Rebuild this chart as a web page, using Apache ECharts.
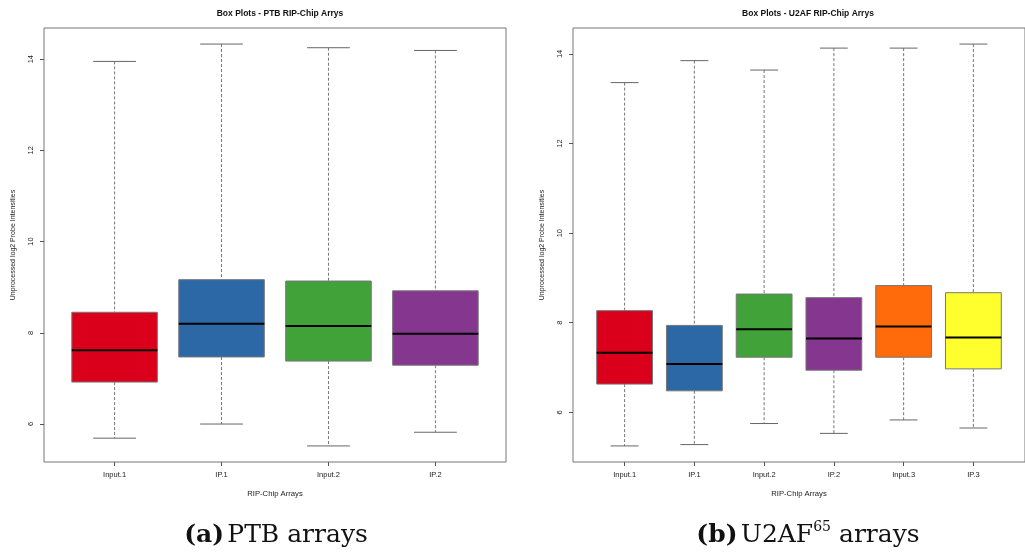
<!DOCTYPE html>
<html>
<head>
<meta charset="utf-8">
<script src="https://cdn.jsdelivr.net/npm/echarts@6/dist/echarts.min.js"></script>
<style>
  html, body { margin: 0; padding: 0; background: #fff; }
  #chart { width: 1025px; height: 553px; }
</style>
</head>
<body>
<div id="chart"></div>
<script>
// PTB RIP-Chip arrays: five-number summaries per array
const ptbCategories = ['Input.1', 'IP.1', 'Input.2', 'IP.2'];
const ptbMin    = [5.69, 6.00, 5.52, 5.82];
const ptbQ1     = [6.92, 7.47, 7.38, 7.29];
const ptbMedian = [7.62, 8.20, 8.15, 7.98];
const ptbQ3     = [8.45, 9.165, 9.135, 8.92];
const ptbMax    = [13.95, 14.33, 14.25, 14.19];

// U2AF65 RIP-Chip arrays
const u2afCategories = ['Input.1', 'IP.1', 'Input.2', 'IP.2', 'Input.3', 'IP.3'];
const u2afMin    = [5.25, 5.28, 5.75, 5.53, 5.83, 5.65];
const u2afQ1     = [6.63, 6.48, 7.23, 6.94, 7.23, 6.97];
const u2afMedian = [7.33, 7.08, 7.855, 7.65, 7.915, 7.67];
const u2afQ3     = [8.27, 7.94, 8.64, 8.56, 8.83, 8.67];
const u2afMax    = [13.36, 13.85, 13.64, 14.13, 14.13, 14.22];

const yTicks = [6, 8, 10, 12, 14];
const boxColors = ['#DA001C', '#2C68A6', '#41A23A', '#85368F', '#FF6A0A', '#FFFF2E'];

const FONT = 'Liberation Sans, Arial, sans-serif';
const SERIF = 'DejaVu Serif, Liberation Serif, serif';

// rows of [position, min, q1, median, q3, max]
function boxRows(mins, q1s, meds, q3s, maxs) {
  return mins.map((m, i) => [i + 1, m, q1s[i], meds[i], q3s[i], maxs[i]]);
}

// axis limits padded by 4% on each side
function paddedRange(lo, hi) {
  const pad = (hi - lo) * 0.04;
  return [lo - pad, hi + pad];
}

function renderBox(params, api) {
  const x = api.value(0);
  const lo = api.value(1), q1 = api.value(2), med = api.value(3), q3 = api.value(4), hi = api.value(5);
  const halfBox = 0.4, halfCap = 0.2;
  const pTopW = api.coord([x, hi]);
  const pQ3 = api.coord([x, q3]);
  const pQ1 = api.coord([x, q1]);
  const pLoW = api.coord([x, lo]);
  const boxL = api.coord([x - halfBox, q3]);
  const boxR = api.coord([x + halfBox, q1]);
  const capL = api.coord([x - halfCap, hi])[0];
  const capR = api.coord([x + halfCap, hi])[0];
  const medY = api.coord([x, med])[1];
  const whisk = { stroke: '#777', lineWidth: 1, lineDash: [3, 2] };
  const cap = { stroke: '#666', lineWidth: 1 };
  return {
    type: 'group',
    children: [
      { type: 'line', shape: { x1: pTopW[0], y1: pTopW[1], x2: pQ3[0], y2: pQ3[1] }, style: whisk },
      { type: 'line', shape: { x1: pQ1[0], y1: pQ1[1], x2: pLoW[0], y2: pLoW[1] }, style: whisk },
      { type: 'line', shape: { x1: capL, y1: pTopW[1], x2: capR, y2: pTopW[1] }, style: cap },
      { type: 'line', shape: { x1: capL, y1: pLoW[1], x2: capR, y2: pLoW[1] }, style: cap },
      {
        type: 'rect',
        shape: { x: boxL[0], y: boxL[1], width: boxR[0] - boxL[0], height: boxR[1] - boxL[1] },
        style: { fill: boxColors[params.dataIndex], stroke: '#777', lineWidth: 1 }
      },
      { type: 'line', shape: { x1: boxL[0], y1: medY, x2: boxR[0], y2: medY }, style: { stroke: '#000', lineWidth: 2 } }
    ]
  };
}

function xAxisFor(cats, gridIndex) {
  const n = cats.length;
  const ticks = cats.map((c, i) => i + 1);
  return {
    type: 'value', gridIndex: gridIndex,
    min: 0.5 - 0.04 * n, max: n + 0.5 + 0.04 * n,
    name: 'RIP-Chip Arrays', nameLocation: 'middle', nameGap: 28,
    nameTextStyle: { fontFamily: FONT, fontSize: 7.7, color: '#222' },
    axisLine: { show: false },
    splitLine: { show: false },
    axisTick: { show: true, customValues: ticks, length: 4, lineStyle: { color: '#555' } },
    axisLabel: {
      customValues: ticks, margin: 9,
      fontFamily: FONT, fontSize: 7.5, color: '#222',
      formatter: v => cats[Math.round(v) - 1]
    }
  };
}

function yAxisFor(mins, maxs, gridIndex) {
  const r = paddedRange(Math.min(...mins), Math.max(...maxs));
  return {
    type: 'value', gridIndex: gridIndex,
    min: r[0], max: r[1],
    name: 'Unprocessed log2 Probe Intensities', nameLocation: 'middle', nameGap: 27,
    nameTextStyle: { fontFamily: FONT, fontSize: 7, color: '#222' },
    axisLine: { show: false },
    splitLine: { show: false },
    axisTick: { show: true, customValues: yTicks, length: 4, lineStyle: { color: '#555' } },
    axisLabel: {
      customValues: yTicks, rotate: 90, margin: 9,
      fontFamily: FONT, fontSize: 7.5, color: '#222'
    }
  };
}

const chart = echarts.init(document.getElementById('chart'), null, { renderer: 'canvas' });

chart.setOption({
  backgroundColor: '#fff',
  animation: false,
  title: [
    { text: 'Box Plots - PTB RIP-Chip Arrys', left: 275, top: 4, textAlign: 'center',
      textStyle: { fontFamily: FONT, fontSize: 8.5, fontWeight: 'bold', color: '#111' } },
    { text: 'Box Plots - U2AF RIP-Chip Arrys', left: 803, top: 4, textAlign: 'center',
      textStyle: { fontFamily: FONT, fontSize: 8.5, fontWeight: 'bold', color: '#111' } }
  ],
  grid: [
    { left: 44, top: 28, width: 462, height: 434, show: true, borderColor: '#777', borderWidth: 1, backgroundColor: 'transparent' },
    { left: 573, top: 28, width: 461, height: 434, show: true, borderColor: '#777', borderWidth: 1, backgroundColor: 'transparent' }
  ],
  xAxis: [xAxisFor(ptbCategories, 0), xAxisFor(u2afCategories, 1)],
  yAxis: [yAxisFor(ptbMin, ptbMax, 0), yAxisFor(u2afMin, u2afMax, 1)],
  series: [
    { type: 'custom', xAxisIndex: 0, yAxisIndex: 0, renderItem: renderBox,
      data: boxRows(ptbMin, ptbQ1, ptbMedian, ptbQ3, ptbMax), clip: false },
    { type: 'custom', xAxisIndex: 1, yAxisIndex: 1, renderItem: renderBox,
      data: boxRows(u2afMin, u2afQ1, u2afMedian, u2afQ3, u2afMax), clip: false }
  ],
  graphic: [
    {
      type: 'text', x: 276, y: 535,
      style: {
        text: '{b|(a)} {r|PTB arrays}',
        align: 'center', verticalAlign: 'middle',
        rich: {
          b: { fontFamily: SERIF, fontSize: 25, fontWeight: 'bold', fill: '#111', lineHeight: 30 },
          r: { fontFamily: SERIF, fontSize: 25, fill: '#111', lineHeight: 30 }
        }
      }
    },
    {
      type: 'text', x: 808, y: 535,
      style: {
        text: '{b|(b)} {r|U2AF}{s|65}{r| arrays}',
        align: 'center', verticalAlign: 'middle',
        rich: {
          b: { fontFamily: SERIF, fontSize: 25, fontWeight: 'bold', fill: '#111', lineHeight: 30 },
          r: { fontFamily: SERIF, fontSize: 25, fill: '#111', lineHeight: 30 },
          s: { fontFamily: SERIF, fontSize: 14, fill: '#111', lineHeight: 18, verticalAlign: 'top' }
        }
      }
    }
  ]
});
</script>
</body>
</html>
